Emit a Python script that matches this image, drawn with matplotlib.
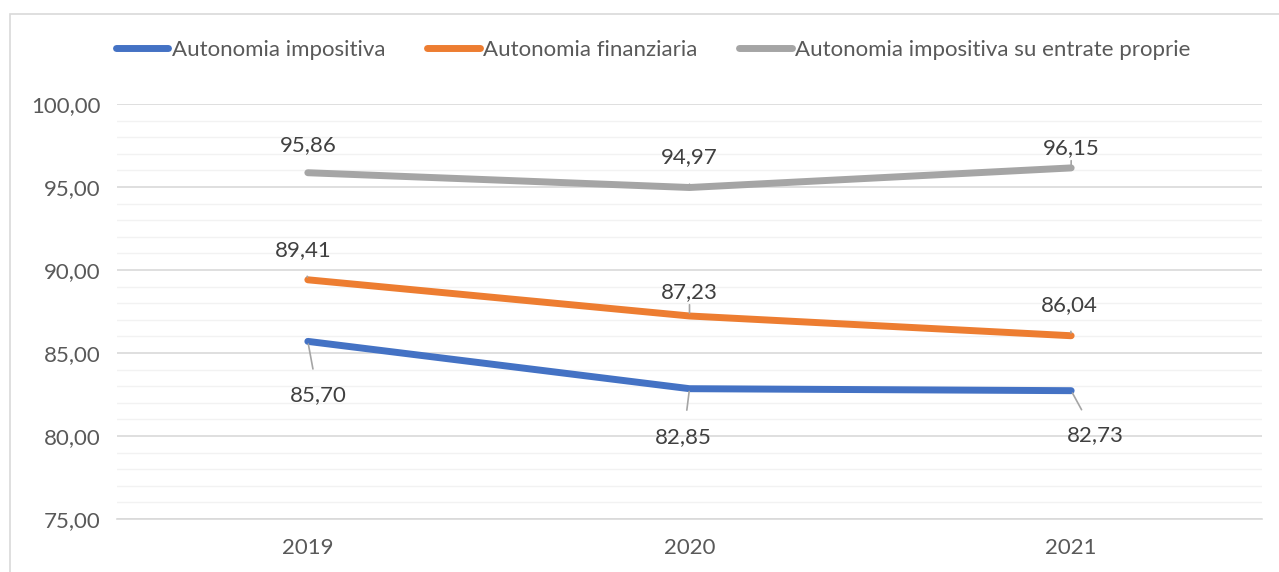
import matplotlib.pyplot as plt
from matplotlib.patches import Rectangle

years = ["2019", "2020", "2021"]
impositiva = [85.70, 82.85, 82.73]
finanziaria = [89.41, 87.23, 86.04]
su_entrate = [95.86, 94.97, 96.15]

series_names = ["Autonomia impositiva", "Autonomia finanziaria",
                "Autonomia impositiva su entrate proprie"]
colors = ["#4472C4", "#ED7D31", "#A5A5A5"]

# label offsets in pixels (dx, dy) for each point
offsets = {
    0: [(10, -54), (-6, -48), (24, -44)],
    1: [(-5, 30), (0, 24), (-2, 31)],
    2: [(0, 28), (0, 30), (0, 20)],
}

plt.rcParams['font.family'] = ['Lato', 'DejaVu Sans']
FS = 16

fig = plt.figure(figsize=(12.79, 5.72), dpi=100)
ax = fig.add_axes([117 / 1279, 1 - 519 / 572, (1262 - 117) / 1279, (519 - 104) / 572])

fig.patches.append(Rectangle((10 / 1279, -0.05), 1.1, 1 - 14 / 572 + 0.05,
                             transform=fig.transFigure, fill=False,
                             edgecolor="#D9D9D9", linewidth=1.2))

x = list(range(len(years)))
all_series = [impositiva, finanziaria, su_entrate]
for i, (vals, name, c) in enumerate(zip(all_series, series_names, colors)):
    ax.plot(x, vals, color=c, lw=5, solid_capstyle="round", label=name, zorder=3)
    for j, v in enumerate(vals):
        dx, dy = offsets[i][j]
        ax.annotate(f"{v:.2f}".replace(".", ","), xy=(j, v),
                    xytext=(dx * 0.72, dy * 0.72), textcoords="offset points",
                    ha="center", va="center", fontsize=FS, color="#404040",
                    arrowprops=dict(arrowstyle="-", color="#A5A5A5", lw=1.2,
                                    shrinkA=10, shrinkB=2), zorder=4)

ax.set_xlim(-0.5, 2.5)
ax.set_ylim(75, 100)
ax.set_xticks(x)
ax.set_xticklabels(years)
ax.set_yticks([75, 80, 85, 90, 95, 100])
ax.set_yticklabels([f"{t:.2f}".replace(".", ",") for t in [75, 80, 85, 90, 95, 100]])
ax.set_yticks(range(75, 101), minor=True)
ax.grid(axis="y", which="minor", color="#F2F2F2", lw=1)
ax.grid(axis="y", which="major", color="#D9D9D9", lw=1.2)
ax.set_axisbelow(True)
for s in ["top", "right", "left"]:
    ax.spines[s].set_visible(False)
ax.spines["bottom"].set_color("#D9D9D9")
ax.spines["bottom"].set_linewidth(1.2)
ax.tick_params(axis="both", which="both", length=0, labelsize=FS, colors="#595959")
ax.tick_params(axis="y", pad=12)
ax.tick_params(axis="x", pad=14)

leg = fig.legend(loc="center left", bbox_to_anchor=(96 / 1279, 1 - 50 / 572),
                 ncol=3, frameon=False, fontsize=FS, handlelength=2.35,
                 handletextpad=0.15, columnspacing=1.9)
for t in leg.get_texts():
    t.set_color("#595959")

fig.savefig("out.png", dpi=100)
